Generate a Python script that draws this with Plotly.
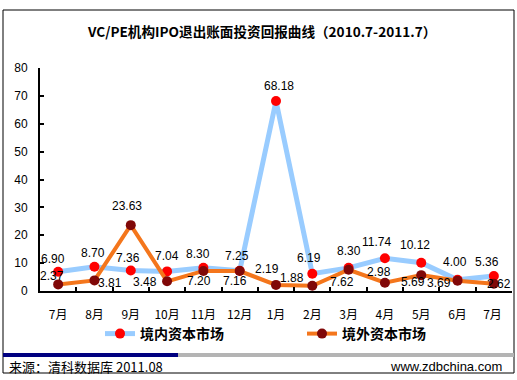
import plotly.graph_objects as go

categories = ["7月", "8月", "9月", "10月", "11月", "12月", "1月", "2月", "3月", "4月", "5月", "6月", "7月 "]
domestic = [6.90, 8.70, 7.36, 7.04, 8.30, 7.25, 68.18, 6.19, 8.30, 11.74, 10.12, 4.00, 5.36]
foreign = [2.37, 3.81, 23.63, 3.48, 7.20, 7.16, 2.19, 1.88, 7.62, 2.98, 5.69, 3.69, 2.62]
domestic_name = "境内资本市场"
foreign_name = "境外资本市场"
title_text = "VC/PE机构IPO退出账面投资回报曲线（2010.7-2011.7）"
source_text = "来源：清科数据库 2011.08"
site_text = "www.zdbchina.com"

# label offsets in pixels (dx, dy downwards)
dom_off = [(-5, -13), (-1, -14), (-3, -12), (0, -15), (-5, -14), (-3, -15), (3, -15),
           (-3, -16), (0, -17), (-8, -16), (-6, -18), (-3, -18), (-7, -14)]
for_off = [(-6, -8), (16, 3), (-4, -19), (-22, 1), (-4, 10), (-5, 10), (-9, -16),
           (-20, -8), (-7, 12), (-6, -11), (-8, 7), (-19, 2), (5, 0)]

W, H = 517, 380
L, R, T, B = 40, 512, 68, 291


def xp(px):
    return (px - L) / (R - L)


def yp(py):
    return (B - py) / (B - T)


num_font = dict(family="Liberation Sans, Arial", size=12, color="#000000")
cjk = "Noto Sans CJK SC"

fig = go.Figure()
fig.add_trace(go.Scatter(
    x=categories, y=domestic, name=domestic_name, mode="lines+markers",
    line=dict(color="#99CCFF", width=5),
    marker=dict(color="#FF0000", size=10),
    cliponaxis=False, legend="legend",
))
fig.add_trace(go.Scatter(
    x=categories, y=foreign, name=foreign_name, mode="lines+markers",
    line=dict(color="#F4761C", width=4),
    marker=dict(color="#800808", size=10),
    cliponaxis=False, legend="legend2",
))

annotations = []
for i, (c, v) in enumerate(zip(categories, domestic)):
    dx, dy = dom_off[i]
    annotations.append(dict(x=c, y=v, text=f"{v:.2f}", showarrow=False, xshift=dx, yshift=-dy,
                            font=num_font))
for i, (c, v) in enumerate(zip(categories, foreign)):
    dx, dy = for_off[i]
    annotations.append(dict(x=c, y=v, text=f"{v:.2f}", showarrow=False, xshift=dx, yshift=-dy,
                            font=num_font))

annotations.append(dict(xref="paper", yref="paper", x=xp(261), y=yp(31), text=f"<b>{title_text}</b>",
                        showarrow=False, xanchor="center", yanchor="middle",
                        font=dict(family=cjk, size=13.6, color="#000000")))
annotations.append(dict(xref="paper", yref="paper", x=xp(7), y=yp(366), text=source_text,
                        showarrow=False, xanchor="left", yanchor="middle",
                        font=dict(family=cjk, size=13, color="#000000")))
annotations.append(dict(xref="paper", yref="paper", x=xp(504), y=yp(366), text=site_text,
                        showarrow=False, xanchor="right", yanchor="middle",
                        font=dict(family="Liberation Sans, Arial", size=13, color="#000000")))

shapes = [
    dict(type="rect", xref="paper", yref="paper", x0=xp(3), x1=xp(514), y0=yp(373), y1=yp(10),
         line=dict(color="#000000", width=1), fillcolor="rgba(0,0,0,0)", layer="below"),
    dict(type="rect", xref="paper", yref="paper", x0=xp(3), x1=xp(178), y0=yp(357), y1=yp(353),
         line=dict(width=0), fillcolor="#000080"),
    dict(type="rect", xref="paper", yref="paper", x0=xp(178), x1=xp(514), y0=yp(357), y1=yp(353),
         line=dict(width=0), fillcolor="#B4B4B4"),
]

legend_font = dict(family=cjk, size=14, color="#000000", weight="bold")

fig.update_layout(
    width=W, height=H,
    margin=dict(l=L, r=W - R, t=T, b=H - B, pad=0),
    paper_bgcolor="#FFFFFF", plot_bgcolor="#FFFFFF",
    showlegend=True,
    legend=dict(orientation="h", x=xp(100), y=yp(334), xanchor="left", yanchor="middle",
                font=legend_font, itemwidth=30, bgcolor="rgba(0,0,0,0)"),
    legend2=dict(orientation="h", x=xp(302), y=yp(334), xanchor="left", yanchor="middle",
                 font=legend_font, itemwidth=30, bgcolor="rgba(0,0,0,0)"),
    annotations=annotations,
    shapes=shapes,
    xaxis=dict(type="category", showgrid=False, showline=True, linecolor="#000000", linewidth=2,
               ticks="inside", ticklen=4, tickcolor="#000000", tickwidth=2, tickson="boundaries",
               tickfont=dict(family=cjk, size=12, color="#000000"), ticklabelstandoff=12,
               range=[-0.5, 12.5], zeroline=False, fixedrange=True),
    yaxis=dict(range=[0, 80], dtick=10, showgrid=False, showline=True, linecolor="#000000",
               linewidth=2, ticks="inside", ticklen=4, tickcolor="#000000", tickwidth=2,
               tickfont=dict(family="Liberation Sans, Arial", size=12, color="#000000"),
               ticklabelstandoff=8, zeroline=False, fixedrange=True),
)

fig.write_html("out.html", config={"displayModeBar": False},
               post_script="document.body.style.margin='0';document.body.style.overflow='hidden';")
